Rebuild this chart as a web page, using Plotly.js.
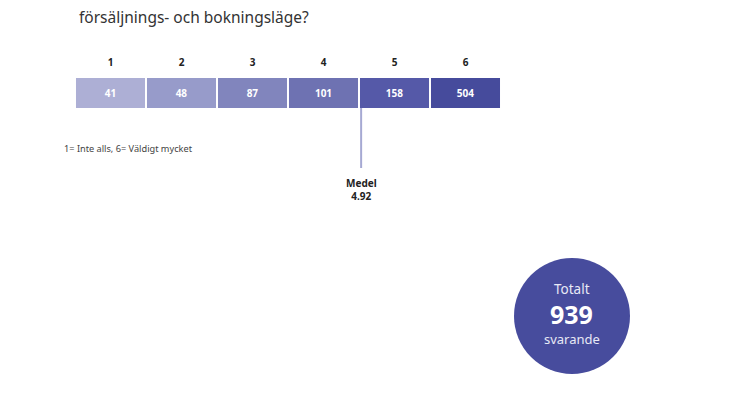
<!DOCTYPE html>
<html>
<head>
<meta charset="utf-8">
<script src="https://cdn.plot.ly/plotly-3.0.1.min.js"></script>
<style>html,body{margin:0;padding:0;background:#fff;}#chart{width:746px;height:419px;}</style>
</head>
<body>
<div id="chart"></div>
<script>
const categories = ["1", "2", "3", "4", "5", "6"];
const counts = [41, 48, 87, 101, 158, 504];
const cellColors = ["#adafd5", "#979bca", "#8185bd", "#6e72b2", "#5559a8", "#464b9c"];
const meanValue = 4.92;
const totalRespondents = 939;
const titleText = "försäljnings- och bokningsläge?";
const scaleNote = "1= Inte alls, 6= Väldigt mycket";

const W = 746, H = 419;
const px = x => x / W;
const py = y => (H - y) / H;
const FONT = "Noto Sans, Open Sans, sans-serif";

// position of mean marker on categorical axis (cells centred on 1..6)
const meanPos = 4.53;

const trace = {
  type: "bar",
  x: categories.map(Number),
  y: categories.map(() => 1),
  width: 0.972,
  marker: { color: cellColors, line: { width: 0 } },
  text: counts.map(String),
  textposition: "inside",
  insidetextanchor: "middle",
  textfont: { family: FONT, size: 10, color: "#ffffff", weight: 700 },
  hoverinfo: "none",
  showlegend: false
};

const layout = {
  width: W, height: H,
  margin: { l: 0, r: 0, t: 0, b: 0 },
  paper_bgcolor: "#ffffff",
  plot_bgcolor: "rgba(0,0,0,0)",
  font: { family: FONT, color: "#333" },
  xaxis: {
    domain: [px(75), px(501)],
    range: [0.5, 6.5],
    side: "top",
    tickmode: "array",
    tickvals: categories.map(Number),
    ticktext: categories.map(c => "<b>" + c + "</b>"),
    tickfont: { family: FONT, size: 10, color: "#222" },
    showgrid: false, zeroline: false, showline: false, ticks: "",
    ticklabelstandoff: 9,
    fixedrange: true
  },
  yaxis: {
    domain: [py(108), py(78)],
    range: [0, 1],
    visible: false,
    fixedrange: true
  },
  shapes: [
    { type: "line", xref: "x", yref: "paper", x0: meanPos, x1: meanPos, y0: py(108), y1: py(168),
      line: { color: "#a6a9d3", width: 2 } },
    { type: "circle", xref: "paper", yref: "paper", x0: px(514), x1: px(630), y0: py(374), y1: py(258),
      fillcolor: "#474c9d", line: { width: 0 } }
  ],
  annotations: [
    { text: titleText, xref: "paper", yref: "paper", x: px(77), y: py(17), xanchor: "left", yanchor: "middle",
      showarrow: false, font: { family: FONT, size: 15.5, color: "#333" } },
    { text: scaleNote, xref: "paper", yref: "paper", x: px(62), y: py(148), xanchor: "left", yanchor: "middle",
      showarrow: false, font: { family: FONT, size: 9.2, color: "#444" } },
    { text: "<b>Medel</b><br><b>" + meanValue.toFixed(2) + "</b>", xref: "x", yref: "paper", x: meanPos, y: py(189),
      xanchor: "center", yanchor: "middle", showarrow: false, align: "center",
      font: { family: FONT, size: 10, color: "#222" } },
    { text: "Totalt", xref: "paper", yref: "paper", x: px(572), y: py(288.5), xanchor: "center", yanchor: "middle",
      showarrow: false, font: { family: FONT, size: 13.5, color: "#e8e9f5" } },
    { text: "<b>" + totalRespondents + "</b>", xref: "paper", yref: "paper", x: px(571), y: py(314), xanchor: "center", yanchor: "middle",
      showarrow: false, font: { family: FONT, size: 25, color: "#ffffff" } },
    { text: "svarande", xref: "paper", yref: "paper", x: px(572), y: py(338.5), xanchor: "center", yanchor: "middle",
      showarrow: false, font: { family: FONT, size: 13, color: "#e8e9f5" } }
  ]
};

Plotly.newPlot("chart", [trace], layout, { displayModeBar: false, staticPlot: true });
</script>
</body>
</html>
